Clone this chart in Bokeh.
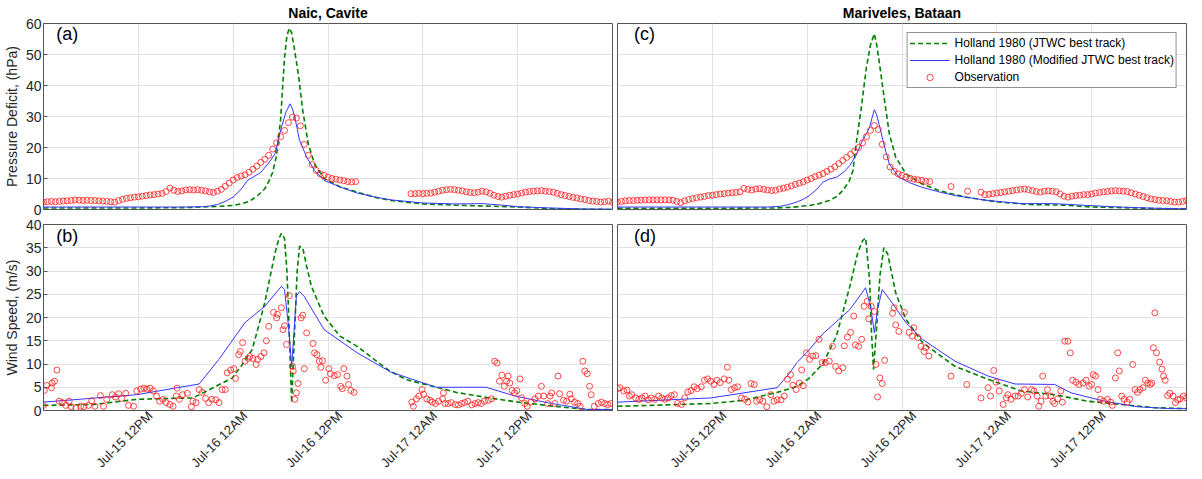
import math
import numpy as np
from bokeh.plotting import figure
from bokeh.models import Range1d, FixedTicker, Label, Legend, LegendItem
from bokeh.layouts import column, row
from bokeh.embed import file_html
from bokeh.resources import INLINE

FONT = "Liberation Sans"
TXT = "#262626"

# ---------------- labels ----------------
STATIONS = ["Naic, Cavite", "Mariveles, Bataan"]
PANEL_TAGS = ["(a)", "(b)", "(c)", "(d)"]
TICK_HOURS = [12, 24, 36, 48, 60]          # hours after Jul-15 00:00
TICK_LABELS = ["Jul-15 12PM", "Jul-16 12AM", "Jul-16 12PM", "Jul-17 12AM", "Jul-17 12PM"]
P_TICKS = [0, 10, 20, 30, 40, 50, 60]
W_TICKS = [0, 5, 10, 15, 20, 25, 30, 35, 40]
SERIES = ["Holland 1980 (JTWC best track)", "Holland 1980 (Modified JTWC best track)", "Observation"]

# ---------------- Naic, pressure deficit (hPa) ----------------
NAIC_P_JTWC_H = [0, 6, 12, 18, 20, 22, 24, 25, 26, 27, 28, 28.5, 29, 29.5, 30, 30.5, 30.8, 31.1, 31.4, 31.8,
                 32.3, 32.8, 33.5, 34.3, 35.5, 37.6, 39.7, 42, 44, 48, 52, 56, 60, 64, 68, 72]
NAIC_P_JTWC_V = [0.5, 0.5, 0.5, 0.6, 0.8, 1.0, 1.3, 1.8, 2.6, 4.2, 6.7, 9.0, 12.0, 17.5, 29, 49, 56, 58.5, 57, 51,
                 42.7, 32, 21.2, 14.7, 10.0, 7.2, 5.6, 3.9, 2.9, 1.8, 1.4, 1.1, 0.8, 0.3, 0.1, 0.0]
NAIC_P_MOD_H = [0, 12, 18, 20, 21, 22, 23, 24, 25, 25.8, 26.5, 27.5, 28.5, 29.3, 30.1, 30.7, 31.2, 31.5, 31.8, 32.4,
                33.3, 34.3, 35.5, 37.6, 39.7, 42, 44, 48, 52, 55.5, 58, 60, 64, 68, 72]
NAIC_P_MOD_V = [0.8, 0.8, 0.8, 0.9, 1.1, 1.6, 2.6, 4.0, 6.5, 9.4, 10.4, 12.0, 15.0, 18.0, 26.5, 31.5, 34.1, 32.5, 29.8, 22.3,
                16.9, 12.6, 9.4, 7.2, 5.3, 4.0, 3.1, 2.1, 1.8, 1.9, 1.4, 0.9, 0.5, 0.2, 0.1]
# observations every 30 min: first block starts at hour 0, second block at hour 46.5
NAIC_P_OBS_A = [2.4, 2.5, 2.6, 2.5, 2.6, 2.7, 2.8, 2.9, 3.1, 3.0, 2.9, 3.0, 2.9, 2.9, 2.8, 2.7, 2.6, 2.5, 2.4, 2.9,
                3.3, 3.6, 3.8, 4.0, 4.1, 4.3, 4.5, 4.7, 4.8, 5.0, 5.2, 5.8, 6.9, 6.2, 5.8, 6.0, 6.3, 6.4, 6.3, 6.4,
                6.2, 6.0, 5.7, 5.5, 5.9, 6.5, 7.5, 8.5, 9.5, 10.3, 10.8, 11.2, 12.0, 13.0, 14.0, 15.2, 16.2, 17.5, 19.5, 21.5,
                23.5, 25.5, 28.0, 29.8, 29.5, 27.0, 21.0, 17.5, 14.5, 12.6, 11.5, 11.0, 10.4, 10.0, 9.8, 9.5, 9.3, 9.0, 8.9, 9.0]
NAIC_P_OBS_B = [5.1, 5.1, 5.2, 5.1, 5.2, 5.3, 5.6, 5.9, 6.2, 6.4, 6.5, 6.4, 6.2, 6.0, 5.7, 5.5, 5.4, 5.6, 5.9, 5.7,
                5.2, 4.6, 4.2, 4.0, 4.3, 4.6, 4.8, 5.0, 5.3, 5.6, 5.8, 5.9, 6.0, 6.1, 5.9, 5.8, 5.6, 5.2, 4.8, 4.5,
                4.2, 3.9, 3.7, 3.4, 3.2, 2.9, 2.7, 2.6, 2.4, 2.5, 2.7, 2.3]

# ---------------- Naic, wind speed (m/s) ----------------
NAIC_W_JTWC_H = [0, 6.4, 11.8, 16, 18.9, 21, 23.9, 25, 26.4, 27.2, 28, 28.7, 29.3, 29.8, 30.1, 30.5, 30.8, 31.0, 31.4, 31.8,
                 32.1, 32.4, 32.8, 33.3, 33.9, 35.5, 37.5, 39.7, 42, 43.9, 46, 49.7, 52.2, 56.4, 60.5, 64.7, 68.9, 72]
NAIC_W_JTWC_V = [1.1, 1.3, 2.4, 2.6, 2.7, 4.5, 7.0, 9.5, 13.1, 18.0, 23.2, 29.0, 33.9, 37.0, 38.1, 37.0, 30.0, 21.7, 1.7, 18.1,
                 30.0, 35.3, 35.0, 31.0, 26.7, 20.3, 16.0, 13.8, 10.8, 8.4, 6.6, 5.0, 3.9, 2.7, 1.7, 0.9, 0.2, 0.2]
NAIC_W_MOD_H = [0, 11.8, 19.7, 22.2, 25.5, 28, 30.1, 30.5, 31.0, 31.4, 31.7, 32.0, 32.4, 33.0, 35.5, 39.7, 43.9, 46.5,
                49.7, 53, 56, 59.7, 64, 68.9, 72]
NAIC_W_MOD_V = [1.8, 3.4, 5.7, 11.0, 18.9, 22.4, 26.7, 26.0, 18.1, 9.5, 17.0, 24.6, 25.6, 24.5, 17.4, 12.4, 8.3, 6.8,
                5.0, 5.0, 5.0, 3.1, 1.6, 0.2, 0.2]
NAIC_W_OBS = [(0.0, 1.1), (0.1, 4.3), (0.4, 5.4), (1.0, 4.9), (1.1, 5.9), (1.4, 6.3), (1.7, 8.7), (2.0, 2.0), (2.4, 1.7),
              (2.8, 1.1), (3.25, 2.0), (3.5, 0.8), (4.1, 0.6), (4.7, 0.9), (5.1, 0.8), (5.7, 1.1), (6.1, 2.1), (6.5, 0.9),
              (7.2, 3.2), (7.6, 0.9), (8.0, 2.4), (8.7, 3.4), (9.1, 2.9), (9.5, 3.6), (9.9, 2.6), (10.4, 3.7), (10.75, 1.1),
              (11.4, 0.9), (11.8, 4.2), (12.3, 4.6), (12.7, 4.8), (13.1, 4.6), (13.5, 4.8), (13.9, 4.2), (14.3, 3.1),
              (14.7, 2.0), (15.1, 2.4), (15.5, 1.7), (16.0, 1.3), (16.4, 0.9), (16.8, 3.1), (16.9, 4.8), (17.2, 2.4),
              (17.6, 3.4), (18.2, 3.7), (18.7, 0.8), (18.9, 2.0), (19.3, 1.7), (19.7, 4.5), (20.1, 3.9), (20.5, 2.6),
              (20.9, 1.7), (21.3, 2.4), (21.8, 2.3), (22.2, 1.7), (22.6, 4.5), (23.0, 4.5), (23.25, 8.1), (23.7, 8.7),
              (24.1, 9.0), (24.3, 6.9), (24.7, 12.0), (24.9, 12.7), (25.2, 14.6), (25.5, 10.6), (25.9, 11.2), (26.1, 11.6),
              (26.5, 11.2), (26.9, 9.9), (27.1, 11.0), (27.5, 11.6), (27.9, 12.4), (28.2, 15.0), (28.5, 18.1), (29.1, 21.1),
              (29.5, 19.9), (29.6, 20.7), (30.1, 22.1), (30.3, 17.4), (30.5, 18.2), (30.75, 14.2), (31.1, 24.7), (31.5, 9.5),
              (31.6, 8.5), (31.8, 2.4), (32.0, 3.8), (32.2, 5.8), (32.6, 19.9), (32.8, 20.5), (33.0, 9.0), (33.3, 16.7),
              (34.1, 14.4), (34.3, 12.4), (34.6, 12.0), (34.9, 10.6), (35.1, 9.3), (35.3, 10.7), (35.7, 6.5), (36.1, 9.0),
              (36.3, 7.9), (36.8, 7.5), (37.2, 7.7), (37.6, 5.2), (37.8, 4.7), (38.0, 9.0), (38.4, 7.4), (38.6, 5.6),
              (38.9, 4.3), (39.3, 3.9),
              (46.6, 1.8), (46.8, 0.9), (47.2, 2.5), (47.5, 3.1), (47.9, 4.5), (48.1, 3.5), (48.5, 2.5), (48.9, 2.2),
              (49.2, 1.8), (49.6, 1.5), (50.0, 2.0), (50.5, 2.5), (50.6, 3.8), (50.8, 1.5), (51.2, 1.5), (51.6, 1.7),
              (52.1, 1.3), (52.5, 1.2), (52.9, 1.5), (53.3, 1.7), (53.7, 2.0), (54.2, 1.2), (54.6, 1.5), (55.0, 1.7),
              (55.4, 1.5), (55.8, 2.0), (56.3, 2.2), (56.7, 2.5), (57.1, 10.6), (57.4, 10.2), (57.7, 6.3), (58.0, 7.6),
              (58.3, 5.2), (58.6, 6.3), (58.8, 7.4), (59.0, 5.9), (59.3, 4.3), (59.6, 3.8), (59.9, 4.3), (60.3, 6.8),
              (60.5, 2.7), (60.9, 1.5), (61.2, 0.9), (61.7, 1.8), (62.2, 2.5), (62.6, 3.1), (63.0, 5.2), (63.3, 3.1),
              (63.8, 1.5), (64.1, 3.1), (64.3, 3.8), (64.7, 1.5), (65.1, 7.4), (65.3, 3.6), (65.8, 2.2), (66.2, 2.0),
              (66.6, 3.5), (66.8, 2.5), (67.2, 1.8), (67.6, 1.5), (67.9, 0.9), (68.25, 10.6), (68.5, 8.5), (68.8, 7.9),
              (69.1, 5.2), (69.3, 3.4), (69.7, 0.9), (70.2, 1.5), (70.6, 1.8), (71.0, 1.5), (71.4, 1.3), (71.8, 1.5)]

# ---------------- Mariveles, pressure deficit (hPa) ----------------
MARI_P_JTWC_H = [0, 12, 20, 22, 24.3, 25.5, 26.8, 27.8, 28.5, 29.3, 29.8, 30.2, 30.8, 31.5, 32.0, 32.5, 32.8, 33.1, 33.8, 34.4,
                 35.2, 36.5, 38.5, 40.7, 44, 48.2, 52.3, 56.5, 60, 64, 68, 72]
MARI_P_JTWC_V = [0.4, 0.4, 0.5, 0.7, 1.3, 1.9, 2.9, 4.3, 6.1, 9.0, 12.6, 21.2, 31.9, 45.9, 53, 56.7, 53, 48, 35, 24.4,
                 16.9, 11.5, 8.3, 6.1, 4.0, 2.4, 1.6, 1.4, 0.8, 0.6, 0.3, 0.2]
MARI_P_MOD_H = [0, 12, 19, 20.5, 21.5, 22.7, 23.5, 24.3, 25.2, 26, 26.8, 27.7, 28.6, 29.4, 30.2, 31.0, 31.5, 31.9, 32.2, 32.5,
                32.8, 33.1, 33.8, 34.4, 35.6, 37, 38.5, 40.5, 42.7, 46.9, 51.1, 55.2, 59.5, 63.6, 68, 72]
MARI_P_MOD_V = [0.8, 0.8, 0.8, 1.0, 1.5, 2.4, 3.3, 4.5, 6.5, 8.8, 9.8, 10.4, 12.0, 14.2, 17.5, 22.3, 24.5, 26.5, 29.5, 32.2,
                30.5, 27.4, 20.1, 14.7, 10.4, 8.6, 7.2, 5.8, 4.5, 2.9, 1.9, 1.9, 1.3, 0.8, 0.4, 0.2]
MARI_P_OBS_A = [2.4, 2.6, 2.8, 2.9, 2.9, 3.0, 3.0, 3.1, 3.1, 3.1, 3.1, 3.1, 3.1, 3.1, 3.0, 2.6, 2.2, 2.8, 3.2, 3.5,
                3.8, 4.0, 4.2, 4.5, 4.6, 4.8, 5.0, 5.1, 5.3, 5.4, 5.5, 5.7, 6.8, 6.5, 6.3, 6.6, 6.7, 6.5, 6.3, 6.1,
                6.2, 6.6, 6.9, 7.2, 7.6, 8.1, 8.5, 8.9, 9.5, 10.0, 10.6, 11.1, 11.6, 12.3, 13.0, 13.8, 14.8, 15.8, 16.8, 17.8,
                18.8, 20.0, 21.5, 23.5, 25.5, 27.1, 25.8, 21.0, 17.0, 13.7, 12.3, 11.5, 11.0, 10.5, 10.1, 9.8, 9.6, 9.4, 9.1, 9.0]
MARI_P_OBS_GAP = [(42.2, 7.4), (44.3, 5.9), (46.0, 5.6)]
MARI_P_OBS_B = [4.8, 4.9, 5.1, 5.3, 5.5, 5.7, 5.9, 6.1, 6.3, 6.5, 6.6, 6.4, 6.1, 5.8, 5.6, 5.9, 6.0, 5.9, 5.7, 5.0,
                4.3, 4.0, 4.3, 4.5, 4.6, 4.8, 4.8, 5.0, 5.3, 5.5, 5.7, 5.8, 6.0, 6.1, 6.0, 5.9, 5.8, 5.4, 5.0, 4.6,
                4.2, 3.8, 3.4, 3.2, 3.0, 2.9, 2.8, 2.6, 2.4, 2.4, 2.6, 2.9]

# ---------------- Mariveles, wind speed (m/s) ----------------
MARI_W_JTWC_H = [0, 11.8, 16, 20.2, 21.8, 22.7, 23.9, 24.3, 26, 27.7, 29.4, 30.4, 31.0, 31.4, 31.9, 32.1, 32.4, 32.8, 33.2,
                 33.7, 34.2, 35.2, 36.5, 38.6, 42.7, 46.9, 51.1, 55.3, 59.5, 63.7, 67.9, 72]
MARI_W_JTWC_V = [0.9, 1.5, 2.2, 3.9, 4.7, 5.2, 6.5, 7.0, 10.1, 16.0, 26.7, 33.9, 36.5, 37.1, 28.1, 18.1, 8.8, 18.1, 28.9,
                 35.0, 33.6, 25.3, 19.6, 14.6, 9.5, 6.7, 4.2, 3.4, 2.0, 1.3, 0.6, 0.4]
MARI_W_MOD_H = [0, 11.8, 20.2, 21.8, 22.7, 23.9, 26, 29.4, 31.4, 32.1, 32.5, 32.9, 33.5, 34.4, 36.5, 38.6, 42.7, 46.9,
                50.3, 55.3, 57.4, 61.6, 65.8, 70, 72]
MARI_W_MOD_V = [1.8, 2.7, 4.9, 8.1, 10.3, 12.4, 16.5, 21.7, 26.4, 21.7, 16.7, 21.7, 26.0, 24.0, 18.9, 15.3, 10.6, 7.4,
                5.7, 5.6, 3.8, 2.0, 0.8, 0.4, 0.4]
MARI_W_OBS = [(0.0, 4.7), (0.3, 4.9), (0.8, 4.2), (1.2, 4.4), (1.5, 3.1), (1.8, 3.4), (2.3, 2.7), (2.7, 2.4), (3.1, 2.7),
              (3.5, 3.1), (3.9, 2.3), (4.3, 2.7), (4.7, 2.4), (5.2, 3.1), (5.6, 2.7), (6.0, 2.4), (6.4, 2.7), (6.8, 3.2),
              (7.2, 3.4), (7.6, 1.5), (8.1, 1.3), (8.5, 2.7), (8.9, 4.0), (9.3, 4.3), (9.7, 5.1), (10.1, 4.7), (10.6, 5.1),
              (11.0, 6.5), (11.4, 6.8), (11.8, 6.3), (12.2, 5.6), (12.6, 6.5), (13.0, 6.0), (13.5, 6.8), (13.9, 9.3),
              (14.1, 6.5), (14.4, 4.5), (14.8, 4.9), (15.2, 5.1), (15.7, 2.7), (16.1, 2.4), (16.5, 1.8), (16.9, 5.8),
              (17.3, 5.6), (17.6, 2.0), (18.0, 2.3), (18.4, 2.0), (18.9, 0.8), (19.4, 3.4), (19.8, 2.0), (20.2, 2.3),
              (20.7, 2.3), (21.1, 3.1), (21.5, 6.7), (21.9, 7.7), (22.2, 5.4), (22.6, 4.5), (23.0, 5.9), (23.3, 8.7),
              (23.5, 5.3), (23.9, 12.4), (24.3, 11.0), (24.7, 11.7), (25.1, 11.8), (25.5, 15.3), (25.9, 10.3),
              (26.3, 10.3), (26.8, 10.6), (27.2, 13.8), (27.6, 9.5), (28.0, 8.5), (28.5, 9.2), (28.7, 13.9), (29.1, 15.8),
              (29.5, 16.8), (29.9, 20.3), (30.1, 14.1), (30.5, 13.8), (30.9, 15.3), (31.2, 22.4), (31.6, 23.5),
              (31.8, 19.7), (32.1, 22.4), (32.5, 21.3), (32.7, 9.9), (32.9, 2.9), (33.2, 7.0), (33.5, 5.8), (33.8, 10.8),
              (34.8, 20.9), (35.0, 22.1), (35.2, 18.4), (35.6, 17.0), (36.3, 21.1), (36.9, 16.8), (37.3, 16.0),
              (37.5, 17.8), (38.0, 15.7), (38.4, 13.8), (38.8, 12.7), (39.0, 13.5), (39.4, 11.7), (42.2, 7.4),
              (44.2, 5.6), (46.0, 2.7), (46.9, 4.9), (47.2, 3.1), (47.6, 8.6), (47.9, 6.1), (48.3, 4.2), (48.8, 1.3),
              (49.2, 2.7), (49.4, 3.4), (49.8, 2.4), (50.3, 3.1), (50.7, 3.1), (51.1, 3.7), (51.5, 4.5), (51.9, 2.9),
              (52.4, 4.5), (52.7, 4.2), (53.1, 3.1), (53.3, 0.9), (53.6, 2.0), (53.8, 7.4), (54.2, 3.1), (54.4, 4.5),
              (54.8, 3.1), (55.1, 2.0), (55.3, 1.5), (55.7, 2.5), (56.1, 4.2), (56.3, 1.8), (56.6, 14.9), (57.0, 14.9),
              (57.3, 12.4), (57.6, 6.5), (58.0, 6.1), (58.4, 5.6), (58.9, 5.9), (59.3, 6.5), (59.7, 5.2), (60.0, 5.6),
              (60.2, 7.7), (60.5, 7.4), (60.8, 4.5), (61.1, 2.4), (61.5, 2.0), (62.0, 2.4), (62.4, 1.8), (62.6, 1.1),
              (63.0, 7.0), (63.3, 12.4), (63.5, 8.5), (63.8, 3.1), (64.1, 2.4), (64.5, 1.8), (64.8, 2.4), (65.2, 9.9),
              (65.5, 4.5), (65.8, 3.9), (66.1, 4.5), (66.5, 4.9), (66.8, 6.5), (67.1, 5.9), (67.4, 5.6), (67.6, 5.9),
              (67.8, 13.5), (68.0, 21.0), (68.2, 12.4), (68.6, 10.4), (68.9, 8.9), (69.1, 7.4), (69.3, 6.5), (69.6, 3.2),
              (69.9, 3.7), (70.3, 3.1), (70.6, 1.7), (70.9, 2.3), (71.2, 2.5), (71.6, 3.1), (72.0, 2.7)]

OBS_STEP = 0.5
LABEL_SHIFT = 1.5   # rotated tick labels end a little right of their gridline (MATLAB style)


def block_times(start, vals):
    return list(start + OBS_STEP * np.arange(len(vals)))


GREEN = "#008000"
BLUE = "#3535ff"
RED = "#ff1a1a"
FRAME = "#555555"


def make_fig(left, top, title=None):
    p = figure(frame_width=569, frame_height=186,
               x_range=Range1d(0, 72), y_range=Range1d(0, 60 if top else 40),
               output_backend="svg", toolbar_location=None,
               min_border_left=41 if left else 3, min_border_right=2,
               min_border_top=15 if top else 8, min_border_bottom=7 if top else 60,
               title=title)
    p.background_fill_color = "white"
    p.outline_line_color = FRAME
    p.outline_line_width = 1
    if title is not None:
        p.title.text_font = FONT
        p.title.text_font_size = "14px"
        p.title.text_font_style = "bold"
        p.title.text_color = "#000000"
        p.title.align = "center"
        p.title.standoff = 5
        p.title.offset = 0
    yt = P_TICKS if top else W_TICKS
    p.xgrid.ticker = FixedTicker(ticks=TICK_HOURS)
    p.ygrid.ticker = FixedTicker(ticks=yt)
    p.grid.grid_line_color = "#e2e2e2"
    p.grid.grid_line_width = 1
    # x axis
    if top:
        p.xaxis.visible = False
    else:
        ax = p.xaxis[0]
        label_pos = [h + LABEL_SHIFT for h in TICK_HOURS]
        ax.ticker = FixedTicker(ticks=label_pos)
        ax.major_label_overrides = dict(zip(label_pos, TICK_LABELS))
        ax.major_label_orientation = math.pi / 4
        ax.major_label_text_font = FONT
        ax.major_label_text_font_size = "13px"
        ax.major_label_text_color = TXT
        ax.major_label_standoff = 3
        ax.major_tick_in = 0
        ax.major_tick_out = 0
        ax.minor_tick_line_color = None
        ax.axis_line_color = FRAME
    # y axis
    if left:
        ay = p.yaxis[0]
        ay.ticker = FixedTicker(ticks=yt)
        ay.major_label_text_font = FONT
        ay.major_label_text_font_size = "14px"
        ay.major_label_text_color = TXT
        ay.major_label_standoff = 2
        ay.major_tick_in = 4
        ay.major_tick_out = 0
        ay.major_tick_line_color = FRAME
        ay.minor_tick_line_color = None
        ay.axis_line_color = FRAME
        ay.axis_label = "Pressure Deficit, (hPa)" if top else "Wind Speed, (m/s)"
        ay.axis_label_text_font = FONT
        ay.axis_label_text_font_size = "14px"
        ay.axis_label_text_font_style = "normal"
        ay.axis_label_text_color = TXT
        ay.axis_label_standoff = 3
    else:
        p.yaxis.visible = False
    return p


def draw(p, jh, jv, mh, mv, ot, ov):
    g = p.line(jh, jv, line_color=GREEN, line_width=1.6, line_dash="5 3")
    b = p.line(mh, mv, line_color=BLUE, line_width=1)
    o = p.scatter(ot, ov, marker="circle", size=6, fill_color=None,
                  line_color=RED, line_width=0.8)
    return g, b, o


def tag(p, text, x, y):
    p.add_layout(Label(x=x, y=y, text=text, text_font=FONT, text_font_size="18px",
                       text_color="#000000"))


# (a) Naic pressure
pa = make_fig(True, True, STATIONS[0])
ta = block_times(0.0, NAIC_P_OBS_A) + block_times(46.5, NAIC_P_OBS_B)
draw(pa, NAIC_P_JTWC_H, NAIC_P_JTWC_V, NAIC_P_MOD_H, NAIC_P_MOD_V, ta, NAIC_P_OBS_A + NAIC_P_OBS_B)
tag(pa, PANEL_TAGS[0], 1.6, 53.4)

# (b) Naic wind
pb = make_fig(True, False)
wt, wv = zip(*NAIC_W_OBS)
draw(pb, NAIC_W_JTWC_H, NAIC_W_JTWC_V, NAIC_W_MOD_H, NAIC_W_MOD_V, list(wt), list(wv))
tag(pb, PANEL_TAGS[1], 1.6, 35.4)

# (c) Mariveles pressure
pc = make_fig(False, True, STATIONS[1])
gt, gv = zip(*MARI_P_OBS_GAP)
tc = block_times(0.0, MARI_P_OBS_A) + list(gt) + block_times(46.5, MARI_P_OBS_B)
g, b, o = draw(pc, MARI_P_JTWC_H, MARI_P_JTWC_V, MARI_P_MOD_H, MARI_P_MOD_V, tc,
               MARI_P_OBS_A + list(gv) + MARI_P_OBS_B)
tag(pc, PANEL_TAGS[2], 2.1, 53.4)
legend = Legend(items=[LegendItem(label=SERIES[0], renderers=[g]),
                       LegendItem(label=SERIES[1], renderers=[b]),
                       LegendItem(label=SERIES[2], renderers=[o])],
                location="top_right")
legend.label_text_font = FONT
legend.label_text_font_size = "12px"
legend.label_text_color = "#000000"
legend.border_line_color = "#262626"
legend.border_line_width = 1
legend.background_fill_alpha = 1.0
legend.padding = 2
legend.spacing = 1
legend.margin = 9
legend.glyph_width = 40
legend.glyph_height = 16
legend.label_height = 16
legend.label_standoff = 5
pc.add_layout(legend)

# (d) Mariveles wind
pd_ = make_fig(False, False)
mt, mv = zip(*MARI_W_OBS)
draw(pd_, MARI_W_JTWC_H, MARI_W_JTWC_V, MARI_W_MOD_H, MARI_W_MOD_V, list(mt), list(mv))
tag(pd_, PANEL_TAGS[3], 2.1, 35.4)

layout = column(row(pa, pc), row(pb, pd_))
open("out.html", "w").write(file_html(layout, INLINE))
